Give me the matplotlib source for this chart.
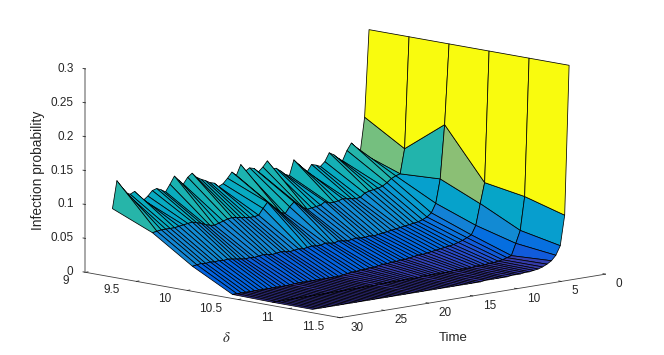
import matplotlib
matplotlib.use('Agg')
import matplotlib.pyplot as plt
import numpy as np
from matplotlib.colors import LinearSegmentedColormap

plt.rcParams['font.family'] = ['Liberation Sans', 'DejaVu Sans']
plt.rcParams['mathtext.fontset'] = 'stix'

# Grid
delta = [9.265, 9.658, 10.051, 10.444, 10.837, 11.23]
time = [1.0, 1.5, 2.0, 2.5, 3.0, 3.5, 4.0, 4.5, 5.0, 5.5, 6.0, 6.5, 7.0, 7.5, 8.0, 8.5, 9.0, 9.5, 10.0, 10.5,
        11.0, 11.5, 12.0, 12.5, 13.0, 13.5, 14.0, 14.5, 15.0, 15.5, 16.0, 16.5, 17.0, 17.5, 18.0, 18.5, 19.0, 19.5, 20.0, 20.5,
        21.0, 21.5, 22.0, 22.5, 23.0, 23.5, 24.0, 24.5, 25.0, 25.5, 26.0, 26.5, 27.0, 27.5, 28.0, 28.5, 29.0, 29.5, 30.0]

# Infection probability, one list per delta value, in order of time
prob_1 = [.300, .172, .121, .130, .137, .127, .113, .118, .124, .128,
          .116, .110, .113, .115, .105, .112, .119, .126, .104, .107,
          .113, .118, .118, .131, .123, .117, .123, .125, .121, .132,
          .117, .123, .115, .108, .105, .111, .113, .117, .120, .124,
          .131, .126, .117, .124, .131, .120, .110, .114, .117, .115,
          .108, .103, .110, .118, .115, .118, .128, .138, .098]
prob_2 = [.300, .136, .100, .098, .095, .090, .086, .084, .083, .082,
          .080, .075, .074, .075, .076, .077, .075, .074, .074, .077,
          .073, .072, .071, .070, .074, .079, .084, .078, .069, .072,
          .078, .084, .090, .082, .073, .072, .072, .073, .074, .075,
          .076, .075, .073, .071, .069, .070, .072, .075, .077, .079,
          .078, .077, .076, .075, .075, .075, .075, .074, .073]
prob_3 = [.300, .182, .103, .068, .055, .050, .047, .045, .044, .043,
          .042, .041, .040, .039, .038, .037, .036, .035, .036, .035,
          .035, .036, .035, .034, .035, .036, .034, .035, .036, .034,
          .034, .035, .034, .033, .034, .033, .032, .033, .034, .033,
          .032, .033, .034, .033, .032, .033, .032, .033, .034, .035,
          .036, .035, .036, .035, .036, .035, .036, .035, .034]
prob_4 = [.300, .107, .077, .046, .033, .030, .027, .025, .023, .022,
          .021, .020, .019, .018, .017, .016, .016, .015, .014, .013,
          .013, .012, .012, .011, .011, .010, .009, .009, .008, .008,
          .007, .007, .006, .005, .004, .004, .004, .004, .004, .004,
          .004, .004, .004, .004, .004, .003, .003, .003, .003, .003,
          .003, .003, .003, .003, .003, .003, .003, .003, .003]
prob_5 = [.300, .097, .048, .030, .013, .011, .009, .008, .007, .007,
          .006, .006, .006, .005, .005, .005, .005, .005, .004, .004,
          .004, .004, .004, .004, .004, .003, .003, .003, .003, .003,
          .003, .003, .003, .003, .003, .002, .002, .002, .002, .002,
          .002, .002, .002, .002, .002, .002, .002, .002, .002, .002,
          .002, .002, .002, .002, .002, .002, .002, .002, .002]
prob_6 = [.300, .080, .036, .023, .016, .012, .009, .007, .006, .005,
          .005, .004, .004, .004, .003, .003, .003, .003, .003, .003,
          .002, .002, .002, .002, .002, .002, .002, .002, .002, .002,
          .002, .002, .002, .002, .002, .002, .002, .002, .002, .002,
          .002, .002, .002, .002, .002, .002, .002, .002, .002, .002,
          .002, .002, .002, .002, .002, .002, .002, .002, .002]
# my readings sit about 2 px low against the z axis
baseline_fix = 0.003

x_ticks = [9, 9.5, 10, 10.5, 11, 11.5]
x_ticklabels = ['9', '9.5', '10', '10.5', '11', '11.5']
y_ticks = [0, 5, 10, 15, 20, 25, 30]
y_ticklabels = ['0', '5', '10', '15', '20', '25', '30']
z_ticks = [0, 0.05, 0.1, 0.15, 0.2, 0.25, 0.3]
z_ticklabels = ['0', '0.05', '0.1', '0.15', '0.2', '0.25', '0.3']

# MATLAB parula, sampled
parula_stops = [(0.2081, 0.1663, 0.5292), (0.2123, 0.2138, 0.6270), (0.1959, 0.2645, 0.7279),
                (0.1253, 0.3242, 0.8303), (0.0117, 0.3875, 0.8820), (0.0165, 0.4266, 0.8786),
                (0.0498, 0.4586, 0.8641), (0.0723, 0.4887, 0.8467), (0.0793, 0.5200, 0.8312),
                (0.0641, 0.5570, 0.8240), (0.0343, 0.5966, 0.8199), (0.0239, 0.6287, 0.8038),
                (0.0228, 0.6535, 0.7768), (0.0384, 0.6743, 0.7436), (0.0843, 0.6928, 0.7062),
                (0.1453, 0.7098, 0.6646), (0.2178, 0.7250, 0.6193), (0.3022, 0.7376, 0.5712),
                (0.3953, 0.7459, 0.5244), (0.4871, 0.7491, 0.4840), (0.5709, 0.7485, 0.4494),
                (0.6473, 0.7456, 0.4188), (0.7184, 0.7411, 0.3905), (0.7858, 0.7356, 0.3633),
                (0.8507, 0.7299, 0.3360), (0.9139, 0.7258, 0.3063), (0.9739, 0.7314, 0.2666),
                (0.9990, 0.7653, 0.2164), (0.9880, 0.8066, 0.1794), (0.9697, 0.8481, 0.1475),
                (0.9589, 0.8949, 0.1132), (0.9661, 0.9514, 0.0755), (0.9763, 0.9831, 0.0538)]
parula = LinearSegmentedColormap.from_list('parula', parula_stops)

X, Y = np.meshgrid(delta, time)
Z = np.array([prob_1, prob_2, prob_3, prob_4, prob_5, prob_6]).T + baseline_fix
face = parula(np.clip(Z / 0.3, 0, 1))

fig = plt.figure(figsize=(6.64, 3.55), dpi=100)
# axes square is 700 px, placed so the box centre lands where the reference has it
ax = fig.add_axes([(-7 - 7) / 664, (-165.5 - 9.5 - 1) / 355, 700 / 664, 700 / 355],
                  projection='3d', proj_type='ortho')
ax.view_init(elev=9.84, azim=-43.8)
ax.set_box_aspect((367, 367, 206), zoom=0.776)
ax.patch.set_alpha(0)

ax.plot_surface(X, Y, Z, rstride=1, cstride=1, facecolors=face, edgecolor='black',
                linewidth=0.55, shade=False, antialiased=True)

ax.set_xlim(9, 11.5, view_margin=0)
ax.set_ylim(30, 0, view_margin=0)
ax.set_zlim(0, 0.3, view_margin=0)
ax.set_xticks(x_ticks)
ax.set_xticklabels(x_ticklabels, ha='right', va='bottom')
ax.set_yticks(y_ticks)
ax.set_yticklabels(y_ticklabels, ha='left', va='center')
ax.set_zticks(z_ticks)
ax.set_zticklabels(z_ticklabels, ha='right', va='center')
ax.grid(False)

for axis in (ax.xaxis, ax.yaxis, ax.zaxis):
    axis.set_pane_color((1, 1, 1, 0))
    axis.pane.set_edgecolor((1, 1, 1, 0))
    axis.line.set_color('#404040')
    axis.line.set_linewidth(0.6)
    axis._axinfo['tick']['inward_factor'] = 0.0
    axis._axinfo['tick']['outward_factor'] = 0.12
    axis._axinfo['tick']['color'] = '#404040'
    axis._axinfo['tick']['linewidth'] = {True: 0.6, False: 0.4}
ax.zaxis.line.set_color('#a8a8a8')
ax.zaxis.line.set_linewidth(1.4)
ax.zaxis.set_ticks_position('upper')

ax.tick_params(axis='x', labelsize=8.5, colors='#262626', pad=8)
ax.tick_params(axis='y', labelsize=8.5, colors='#262626', pad=2.5)
ax.tick_params(axis='z', labelsize=8.5, colors='#262626', pad=-2)

fig.text(226 / 664, 1 - 338 / 355, r'$\delta$', fontsize=10.5, color='#262626', ha='center', va='center')
fig.text(453 / 664, 1 - 338 / 355, 'Time', fontsize=9.5, color='#262626', ha='center', va='center')
fig.text(38 / 664, 1 - 170 / 355, 'Infection probability', fontsize=9.9, color='#262626',
         rotation=90, ha='center', va='center')

fig.savefig('out.png', dpi=100)
